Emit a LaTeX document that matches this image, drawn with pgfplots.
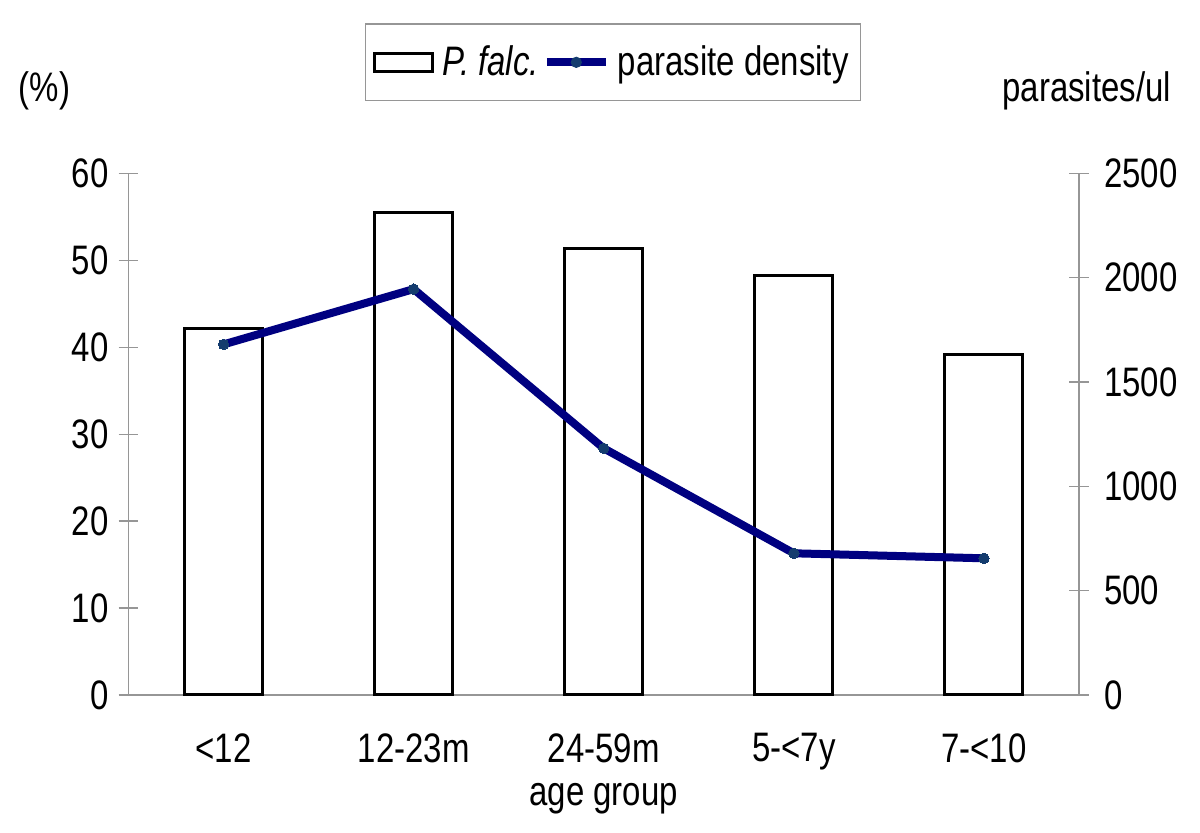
\documentclass[border=0pt]{standalone}
\usepackage{fontspec}
\setmainfont{Liberation Sans}[FakeStretch=0.8]
\usepackage{pgfplots}
\pgfplotsset{compat=1.18}

\definecolor{linecol}{RGB}{0,0,128}
\definecolor{markcol}{RGB}{20,60,110}
\definecolor{axcol}{RGB}{150,150,150}

\pgfplotsset{
  common/.style={
    at={(64.25pt,69pt)}, anchor=south west,
    scale only axis, width=475.25pt, height=260.85pt,
    xmin=-0.5, xmax=4.5,
    axis line style={axcol, line width=0.6pt},
    tick align=center, major tick length=10pt,
    y tick style={axcol, line width=0.6pt},
    x tick style={draw=none},
    /pgf/number format/assume math mode=true,
    /pgf/number format/1000 sep={},
    clip=false,
  },
}

\begin{document}
\begin{tikzpicture}[font=\fontsize{20.6}{24}\selectfont]
\useasboundingbox (0,0) rectangle (600pt,416.5pt);

\begin{axis}[
  common,
  ymin=0, ymax=60,
  axis x line*=bottom, axis y line*=left,
  ytick={0,10,...,60},
  xtick={0,1,2,3,4},
  xticklabels={<12, 12-23m, 24-59m, 5-<7y, 7-<10},
  xticklabel style={yshift=-13pt, inner sep=1pt},
  yticklabel style={xshift=-1.5pt},
  legend columns=2,
  legend style={at={(0.5097,1.2875)}, anchor=north, draw=axcol, line width=0.6pt,
    inner xsep=4pt, inner ysep=9pt, font=\fontsize{20.6}{24}\selectfont,
    /tikz/every odd column/.append style={column sep=2pt}},
]
\addplot[ybar, bar width=39pt, fill=white, draw=black, line width=1.5pt,
  legend image code/.code={\draw[black, line width=1.5pt, fill=white] (0pt,-4.5pt) rectangle (29pt,4.5pt);}]
  coordinates {(0,42.2) (1,55.5) (2,51.4) (3,48.2) (4,39.2)};
\addlegendentry{\textit{P. falc.}}
\addlegendimage{legend image code/.code={\draw[linecol, line width=4pt] (0pt,0pt) -- (29.5pt,0pt); \fill[markcol] (14.75pt,0pt) circle (2.5pt);}}
\addlegendentry{parasite density}

\node[inner sep=1pt] at (rel axis cs:0.5,0) [yshift=-52pt] {age group};
\node at (rel axis cs:0,1) [xshift=-42pt, yshift=41pt] {(\%)};
\node[anchor=east] at (rel axis cs:1,1) [xshift=49.5pt, yshift=41pt] {parasites/ul};
\end{axis}

\begin{axis}[
  common,
  ymin=0, ymax=2500,
  axis y line*=right, axis x line=none,
  ytick={0,500,...,2500},
  yticklabel style={xshift=4pt},
]
\addplot[linecol, line width=4pt, mark=*, mark size=2.6pt,
  mark options={markcol, fill=markcol, line width=0pt}]
  coordinates {(0,1680) (1,1945) (2,1182) (3,679) (4,655)};
\end{axis}
\end{tikzpicture}
\end{document}
